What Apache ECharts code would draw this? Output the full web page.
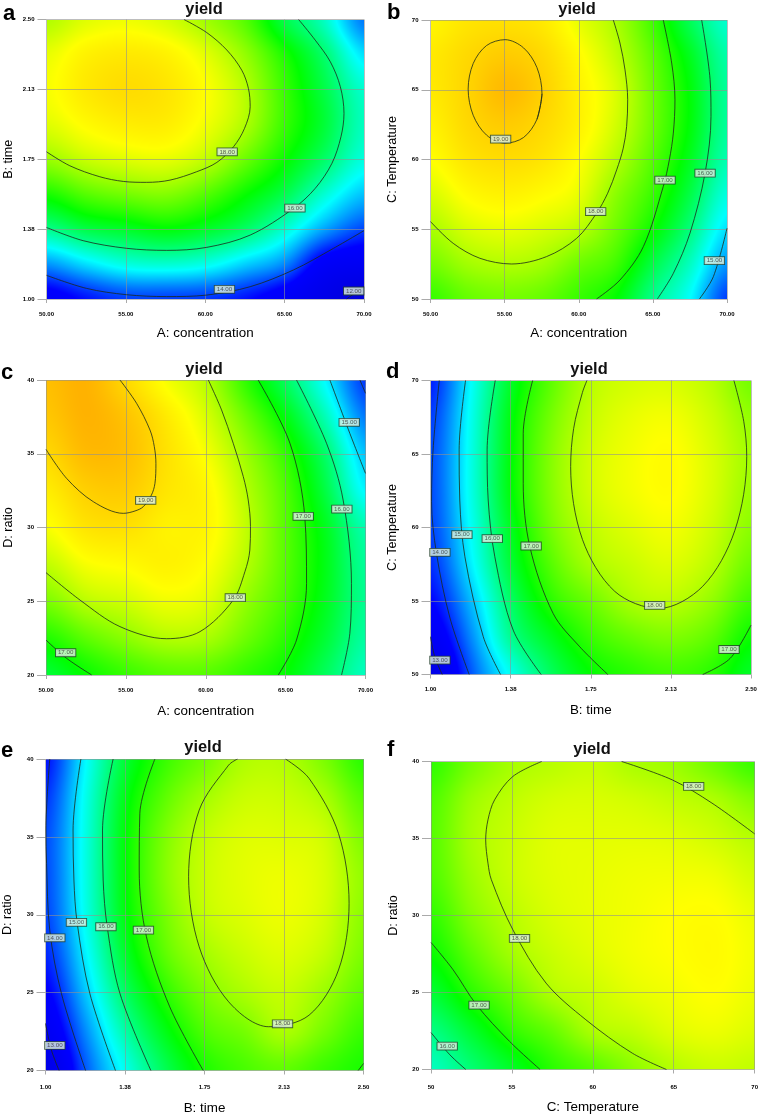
<!DOCTYPE html>
<html><head><meta charset="utf-8">
<style>html,body{margin:0;padding:0;background:#fff}#c{width:761px;height:1116px}</style>
<script src="https://cdn.jsdelivr.net/npm/echarts@6/dist/echarts.min.js"></script>
</head><body><div id="c"></div>
<script>
// Axis ticks
const ticksA = [50, 55, 60, 65, 70];
const ticksB = [1, 1.375, 1.75, 2.125, 2.5];
const ticksC = [50, 55, 60, 65, 70];
const ticksD = [20, 25, 30, 35, 40];
// Grid nodes of the read surfaces
const nodesA = [50, 52.5, 55, 57.5, 60, 62.5, 65, 67.5, 70];
const nodesB = [1, 1.1875, 1.375, 1.5625, 1.75, 1.9375, 2.125, 2.3125, 2.5];
const nodesC = [50, 52.5, 55, 57.5, 60, 62.5, 65, 67.5, 70];
const nodesD = [20, 22.5, 25, 27.5, 30, 32.5, 35, 37.5, 40];
const yieldA = [
 [13.2,14.5,15.95,17.0,17.85,18.3,18.45,18.35,18.0],
 [13.6,15.0,16.4,17.4,18.15,18.55,18.75,18.65,18.3],
 [13.9,15.4,16.6,17.6,18.3,18.7,18.9,18.75,18.4],
 [13.9,15.5,16.8,17.7,18.35,18.7,18.8,18.65,18.25],
 [13.85,15.35,16.6,17.4,18.1,18.42,18.5,18.32,17.9],
 [13.6,14.9,16.2,16.9,17.55,17.98,18.02,17.8,17.4],
 [13.1,14.4,15.5,16.35,16.9,17.2,17.2,17.0,16.4],
 [12.4,13.2,14.6,15.5,16.2,16.5,16.4,16.15,15.6],
 [11.7,12.9,13.95,14.8,15.4,15.6,15.5,15.0,14.3]];
const yieldB = [
 [17.2,17.6,17.95,18.25,18.5,18.65,18.75,18.75,18.6],
 [17.5,17.9,18.25,18.55,18.8,18.95,19.0,18.95,18.8],
 [17.6,18.0,18.35,18.65,18.9,19.1,19.3,19.1,18.85],
 [17.5,17.9,18.25,18.55,18.8,18.95,19.05,18.95,18.75],
 [17.2,17.55,18.05,18.35,18.5,18.65,18.65,18.55,18.35],
 [16.85,17.25,17.55,17.75,18.02,18.2,18.25,18.1,17.95],
 [15.95,16.4,16.9,17.2,17.4,17.55,17.55,17.45,17.25],
 [15.2,15.6,16.05,16.4,16.65,16.8,16.8,16.65,16.3],
 [13.9,14.5,15.0,15.4,15.7,15.85,15.85,15.75,15.5]];
const yieldC = [
 [16.5,17.05,17.65,18.1,18.45,18.7,18.95,19.15,19.25],
 [16.9,17.45,18.05,18.45,18.8,19.05,19.3,19.4,19.4],
 [17.2,17.75,18.2,18.55,18.85,19.1,19.25,19.2,18.95],
 [17.4,18.0,18.4,18.65,18.65,18.8,18.85,18.75,18.45],
 [17.4,17.95,18.3,18.5,18.6,18.6,18.45,18.25,18.03],
 [17.15,17.55,17.8,18.02,18.1,18.02,17.85,17.55,17.15],
 [16.85,17.1,17.3,17.4,17.4,17.35,17.15,16.75,16.25],
 [16.25,16.5,16.65,16.7,16.65,16.4,16.15,15.65,15.15],
 [15.6,15.8,15.9,15.85,15.7,15.15,14.8,14.3,13.85]];
const yieldD = [
 [12.3,13.0,13.5,13.8,13.95,14.0,14.0,13.9,13.7],
 [14.05,14.4,14.75,15.1,15.25,15.35,15.35,15.3,15.2],
 [15.3,15.9,16.2,16.5,16.65,16.8,16.8,16.75,16.6],
 [16.25,16.65,17.1,17.4,17.6,17.7,17.7,17.6,17.45],
 [16.85,17.2,17.55,17.93,18.08,18.2,18.2,18.12,18.03],
 [17.1,17.5,17.95,18.15,18.3,18.42,18.42,18.35,18.22],
 [17.25,17.65,18.05,18.28,18.42,18.52,18.52,18.42,18.25],
 [17.1,17.45,17.8,18.05,18.18,18.26,18.26,18.18,18.05],
 [16.6,16.9,17.25,17.55,17.75,17.85,17.9,17.8,17.6]];
const yieldE = [
 [12.3,12.95,13.4,13.75,13.95,14.0,14.0,13.85,13.6],
 [14.05,14.4,14.8,15.1,15.3,15.35,15.35,15.3,15.15],
 [15.3,15.75,16.2,16.55,16.75,16.8,16.8,16.7,16.5],
 [16.3,16.7,17.1,17.45,17.6,17.7,17.65,17.45,17.2],
 [17.0,17.35,17.65,17.9,18.1,18.15,18.1,17.9,17.6],
 [17.3,17.6,17.95,18.15,18.28,18.32,18.28,18.15,17.98],
 [17.45,17.95,18.12,18.28,18.38,18.38,18.28,18.15,18.0],
 [17.2,17.6,17.85,18.1,18.22,18.25,18.18,17.95,17.65],
 [17.0,17.2,17.45,17.65,17.75,17.8,17.65,17.4,17.1]];
const yieldF = [
 [15.6,16.0,16.5,16.9,17.15,17.35,17.4,17.35,17.15],
 [16.1,16.55,17.1,17.45,17.7,17.85,17.92,17.85,17.6],
 [16.6,17.15,17.55,17.9,18.04,18.15,18.15,18.08,17.92],
 [17.1,17.5,17.98,18.15,18.25,18.3,18.3,18.22,18.04],
 [17.4,17.96,18.15,18.3,18.35,18.35,18.32,18.25,18.12],
 [17.75,18.1,18.32,18.42,18.42,18.4,18.33,18.2,17.95],
 [18.02,18.3,18.42,18.5,18.5,18.42,18.3,18.1,17.85],
 [18.15,18.38,18.5,18.55,18.52,18.4,18.2,17.98,17.55],
 [18.1,18.28,18.38,18.42,18.37,18.22,18.03,17.7,17.2]];

// Contour lines (x value, y value)
const a18 = [[50,1.79],[51.47,1.715],[53.36,1.656],[54.84,1.631],[56.31,1.626],[57.78,1.638],[59.46,1.683],[60.73,1.733],[61.78,1.817],[62.47,1.915],[62.83,2.032],[62.72,2.13],[62.3,2.228],[61.36,2.336],[60.09,2.43],[58.66,2.5]];
const a16 = [[50,1.384],[52.31,1.313],[55.05,1.272],[57.57,1.261],[60.09,1.277],[62.83,1.343],[65.56,1.486],[66.93,1.594],[67.98,1.728],[68.55,1.871],[68.74,1.996],[68.51,2.139],[67.88,2.273],[66.93,2.389],[65.88,2.5]];
const a14 = [[50,1.127],[52.52,1.057],[55.05,1.023],[57.57,1.013],[60.09,1.021],[62.83,1.066],[65.56,1.156],[68.08,1.272],[70,1.367]];
const a12 = [[68.9,1],[70,1.066]];
const b19 = [[57.52,64.71],[57.18,62.88],[56.28,61.58],[55.03,61.17],[53.78,61.75],[52.88,63.17],[52.54,65.05],[52.88,66.88],[53.78,68.17],[55.03,68.59],[56.28,68],[57.18,66.59],[57.52,64.71],[57.18,62.88]];
const b18 = [[50,55.55],[51.53,53.99],[53.33,52.92],[55.47,52.51],[57.83,53.04],[59.86,54.35],[61.2,56.15],[61.95,57.58],[62.56,59.26],[63,60.81],[63.23,62.37],[63.3,64.28],[63.12,66.43],[62.78,68.35],[62.33,70]];
const b17 = [[61.2,50],[62.78,51.36],[64.36,53.76],[65.7,58.06],[66.11,59.97],[66.38,61.89],[66.49,64.28],[66.27,66.91],[65.7,70]];
const b16 = [[65.3,50],[66.38,51.84],[67.5,54.71],[68.52,59.02],[68.92,63.08],[68.86,65.72],[68.29,70]];
const b15 = [[68.14,50],[69.08,51.6],[70,55.07]];
const c19 = [[50,35.3],[51.29,33.33],[52.96,31.75],[54.84,30.96],[55.57,31.12],[56.09,31.41],[56.6,32.2],[56.82,32.99],[56.88,34.35],[56.78,35.48],[56.51,36.61],[55.67,38.42],[54.63,40]];
const c18 = [[50,26.94],[52.13,25.08],[54.63,23.28],[57.55,22.46],[59.64,22.94],[61.72,25.08],[62.45,27],[62.76,28.47],[62.8,30.06],[62.66,31.86],[62.35,33.45],[61.72,35.71],[60.99,37.97],[60.16,40]];
const c17 = [[64.54,20],[65.68,22.37],[66.31,26.21],[66.2,30.73],[65.27,35.71],[63.28,40]];
const c17low = [[50,22.37],[51.29,21.13],[52.86,20]];
const c16 = [[68.5,20],[69.02,22.82],[69.12,26.21],[68.6,31.86],[67.56,35.71],[65.68,40]];
const c15 = [[67.77,40],[69.02,36.38],[70,33.67]];
const c14 = [[69.65,40],[70,39.1]];
const d18 = [[1.732,70],[1.711,69.18],[1.67,66.74],[1.656,64.14],[1.711,59.19],[1.862,55.66],[2.068,54.49],[2.274,56],[2.424,59.78],[2.48,64.82],[2.466,67.23],[2.42,70]];
const d17 = [[1.478,70],[1.434,66.41],[1.434,63.01],[1.465,58.69],[1.574,54.15],[1.699,51.88],[1.83,50]];
const d17right = [[2.274,50],[2.402,51.09],[2.5,53.36]];
const d16 = [[1.303,70],[1.265,65.28],[1.27,61.87],[1.301,58.01],[1.387,53.02],[1.518,50]];
const d15 = [[1.164,70],[1.134,65.28],[1.137,61.87],[1.161,58.01],[1.247,52.57],[1.328,50]];
const d14 = [[1.041,70],[1.012,65.28],[1.005,61.76],[1.028,58.24],[1.091,53.85],[1.181,50]];
const d13 = [[1,52.57],[1.02,51.2],[1.055,50]];
const e18 = [[1.906,40],[1.864,39.61],[1.725,36.72],[1.675,32.44],[1.725,27.94],[1.864,24.41],[2.053,22.81],[2.243,23.55],[2.382,26.45],[2.432,30.73],[2.382,35.22],[2.243,38.76],[2.132,40]];
const e17 = [[1.516,40],[1.445,36.51],[1.442,32.87],[1.476,28.59],[1.586,24.09],[1.744,20]];
const e17right = [[2.475,20],[2.5,20.45]];
const e16 = [[1.319,40],[1.269,35.44],[1.272,32.23],[1.291,29.23],[1.351,24.95],[1.497,20]];
const e15 = [[1.167,40],[1.13,35.44],[1.134,32.23],[1.149,29.51],[1.209,24.95],[1.33,20]];
const e14 = [[1.02,40],[1.002,35.44],[1.005,33.3],[1.02,29.01],[1.075,24.95],[1.189,20]];
const e13 = [[1,23.02],[1.028,21.31],[1.064,20]];
const f18 = [[56.84,40],[55.06,39.03],[53.93,37.51],[53.52,36.21],[53.38,34.91],[53.52,33.4],[53.73,32.32],[55.06,29.07],[57.11,25.61],[59.57,23.23],[62.44,21.06],[64.55,20]];
const f18top = [[61.78,40],[64.9,38.81],[67.36,37.3],[70,35.3]];
const f17 = [[50,28.25],[51.37,26.47],[52.81,24.2],[54.86,21.82],[56.74,20]];
const f16 = [[50,22.4],[51.17,20.95],[52.15,20]];

// Contour labels (x value, y value, level)
const labelsA = [[61.38,1.79,18],[65.65,1.488,16],[61.21,1.052,14],[69.35,1.043,12]];
const labelsB = [[54.73,61.46,19],[61.14,56.27,18],[65.82,58.52,17],[68.52,59.02,16],[69.15,52.75,15]];
const labelsC = [[56.24,31.84,19],[61.85,25.24,18],[66.1,30.76,17],[51.23,21.51,17],[68.52,31.25,16],[68.98,37.13,15]];
const labelsD = [[2.049,54.7,18],[1.471,58.74,17],[2.397,51.7,17],[1.289,59.24,16],[1.147,59.51,15],[1.044,58.31,14],[1.044,50.98,13]];
const labelsE = [[2.118,23,18],[1.462,29.01,17],[1.285,29.23,16],[1.146,29.51,15],[1.044,28.52,14],[1.044,21.61,13]];
const labelsF = [[66.23,38.38,18],[55.47,28.51,18],[52.97,24.18,17],[51,21.52,16]];

const ramp = [[13.5,0,0,255],[15.2,0,255,255],[16.85,0,255,0],[18.5,255,255,0],[21.5,255,0,0]];
function colorOf(v){
  if(v<=ramp[0][0]){const k=Math.max(0,(v-11.5)/2);return [0,0,215+40*k];}
  for(let i=1;i<ramp.length;i++){
    if(v<=ramp[i][0]){const a=ramp[i-1],b=ramp[i],t=(v-a[0])/(b[0]-a[0]);
      return [a[1]+(b[1]-a[1])*t,a[2]+(b[2]-a[2])*t,a[3]+(b[3]-a[3])*t];}
  }
  return [255,0,0];
}
function cr(p,t){return 0.5*((2*p[1])+(p[2]-p[0])*t+(2*p[0]-5*p[1]+4*p[2]-p[3])*t*t+(3*p[1]-p[0]-3*p[2]+p[3])*t*t*t);}
function shadeCell(grid,i,j,w,h){
  const cv=document.createElement('canvas');cv.width=w;cv.height=h;
  const ctx=cv.getContext('2d'),img=ctx.createImageData(w,h),n=grid.length,m=grid[0].length;
  const g=(a,b)=>grid[Math.max(0,Math.min(n-1,a))][Math.max(0,Math.min(m-1,b))];
  for(let py=0;py<h;py++){
    const ty=1-(py+0.5)/h;
    for(let px=0;px<w;px++){
      const tx=(px+0.5)/w,col=[];
      for(let a=-1;a<=2;a++)col.push(cr([g(i+a,j-1),g(i+a,j),g(i+a,j+1),g(i+a,j+2)],ty));
      const c=colorOf(cr(col,tx)),o=(py*w+px)*4;
      img.data[o]=c[0];img.data[o+1]=c[1];img.data[o+2]=c[2];img.data[o+3]=255;
    }
  }
  ctx.putImageData(img,0,0);return cv;
}

const AX={name:'A: concentration',min:50,max:70,ticks:ticksA,nodes:nodesA};
const BX={name:'B: time',min:1,max:2.5,ticks:ticksB,nodes:nodesB,custom:true};
const CX={name:'C: Temperature',min:50,max:70,ticks:ticksC,nodes:nodesC};
const DX={name:'D: ratio',min:20,max:40,ticks:ticksD,nodes:nodesD};
const panels=[
 {L:'a',x:AX,y:BX,xd:2,yd:2,grid:yieldA,box:[46.5,19.5,317.5,279.5],tx:204,ty:9,lx:3,ly:13,ngx:28,ngy:31,mx:12,lines:[[18,a18],[16,a16],[14,a14],[12,a12]],labels:labelsA},
 {L:'b',x:AX,y:CX,xd:2,yd:0,grid:yieldB,box:[430.5,20,296.5,279],tx:577,ty:9,lx:387,ly:12,ngx:28,ngy:31,mx:12,lines:[[19,b19],[18,b18],[17,b17],[16,b16],[15,b15]],labels:labelsB},
 {L:'c',x:AX,y:DX,xd:2,yd:0,grid:yieldC,box:[46,380,319.5,295],tx:204,ty:369,lx:1,ly:372,ngx:30,ngy:31,mx:12,lines:[[19,c19],[18,c18],[17,c17],[17,c17low],[16,c16],[15,c15],[14,c14]],labels:labelsC},
 {L:'d',x:BX,y:CX,xd:2,yd:0,grid:yieldD,box:[430.5,380.5,320.5,294],tx:589,ty:369,lx:386,ly:371,ngx:29,ngy:31,mx:12,lines:[[18,d18],[17,d17],[17,d17right],[16,d16],[15,d15],[14,d14],[13,d13]],labels:labelsD},
 {L:'e',x:BX,y:DX,xd:2,yd:0,grid:yieldE,box:[45.5,759,318,311.5],tx:203,ty:747,lx:1,ly:750,ngx:31,ngy:31,mx:14,lines:[[18,e18],[17,e17],[17,e17right],[16,e16],[15,e15],[14,e14],[13,e13]],labels:labelsE},
 {L:'f',x:CX,y:DX,xd:0,yd:0,grid:yieldF,box:[431,761.5,325.5,308],tx:592,ty:749,lx:387,ly:749,ngx:31,ngy:31,mx:15,lines:[[18,f18],[18,f18top],[17,f17],[16,f16]],labels:labelsF}
];

const FONT='"Liberation Sans",Arial,sans-serif';
const option={animation:false,backgroundColor:'#fff',title:[],grid:[],xAxis:[],yAxis:[],series:[]};
function axisOf(def,dec,idx,isX,p){
  const a={type:'value',gridIndex:idx,min:def.min,max:def.max,z:3,
    name:def.name,nameLocation:'middle',nameGap:isX?p.ngx:p.ngy,
    nameTextStyle:{fontFamily:FONT,fontSize:isX?13.4:12.6,color:'#000'},
    axisLine:{show:false},
    axisTick:{show:true,length:isX?4:9,lineStyle:{color:'#aaa',width:1}},
    splitLine:{show:true,lineStyle:{color:'rgba(145,145,145,0.6)',width:1}},
    axisLabel:{fontFamily:FONT,fontSize:6,fontWeight:'bold',color:'#000',margin:isX?p.mx:12,
      formatter:v=>Number(v).toFixed(dec),showMinLabel:true,showMaxLabel:true}};
  if(def.custom){a.axisTick.customValues=def.ticks;a.axisLabel.customValues=def.ticks;}
  else a.interval=def.ticks[1]-def.ticks[0];
  return a;
}
panels.forEach((p,idx)=>{
  option.title.push({text:'yield',left:p.tx,top:p.ty-9,textAlign:'center',padding:0,textStyle:{fontFamily:FONT,fontSize:16.4,fontWeight:'bold',color:'#111',lineHeight:18}});
  option.title.push({text:p.L,left:p.lx,top:p.ly-11,padding:0,textStyle:{fontFamily:FONT,fontSize:22,fontWeight:'bold',color:'#000',lineHeight:24}});
  option.grid.push({left:p.box[0],top:p.box[1],width:p.box[2],height:p.box[3],containLabel:false});
  option.xAxis.push(axisOf(p.x,p.xd,idx,true,p));
  option.yAxis.push(axisOf(p.y,p.yd,idx,false,p));
  const data=[];
  p.x.nodes.forEach((vx,i)=>p.y.nodes.forEach((vy,j)=>data.push([vx,vy,p.grid[i][j],i,j])));
  const cache={};
  option.series.push({type:'custom',xAxisIndex:idx,yAxisIndex:idx,z:1,silent:true,clip:true,
    encode:{x:0,y:1},data,
    renderItem(params,api){
      const i=api.value(3),j=api.value(4);
      if(i>=p.x.nodes.length-1||j>=p.y.nodes.length-1)return null;
      const c0=api.coord([p.x.nodes[i],p.y.nodes[j]]),c1=api.coord([p.x.nodes[i+1],p.y.nodes[j+1]]);
      const x0=Math.round(c0[0]),x1=Math.round(c1[0]),y1=Math.round(c0[1]),y0=Math.round(c1[1]);
      const key=i+'_'+j+'_'+(x1-x0)+'_'+(y1-y0);
      const cv=cache[key]||(cache[key]=shadeCell(p.grid,i,j,x1-x0,y1-y0));
      return {type:'image',silent:true,style:{image:cv,x:x0,y:y0,width:x1-x0,height:y1-y0}};
    }});
  p.lines.forEach(l=>option.series.push({type:'line',name:String(l[0]),xAxisIndex:idx,yAxisIndex:idx,z:5,silent:true,
    data:l[1],smooth:0.33,showSymbol:false,symbol:'none',clip:true,lineStyle:{color:'#1c2a1c',width:0.8}}));
  option.series.push({type:'scatter',xAxisIndex:idx,yAxisIndex:idx,z:6,silent:true,symbolSize:1,clip:false,
    itemStyle:{color:'transparent'},data:p.labels,
    label:{show:true,position:'inside',formatter:o=>o.value[2].toFixed(2),fontFamily:FONT,fontSize:6.2,color:'#333',
      backgroundColor:'#dff3e2',borderColor:'#24402c',borderWidth:0.9,padding:[1,2,0,2]}});
});
const chart=echarts.init(document.getElementById('c'),null,{renderer:'canvas'});
chart.setOption(option);
</script></body></html>
